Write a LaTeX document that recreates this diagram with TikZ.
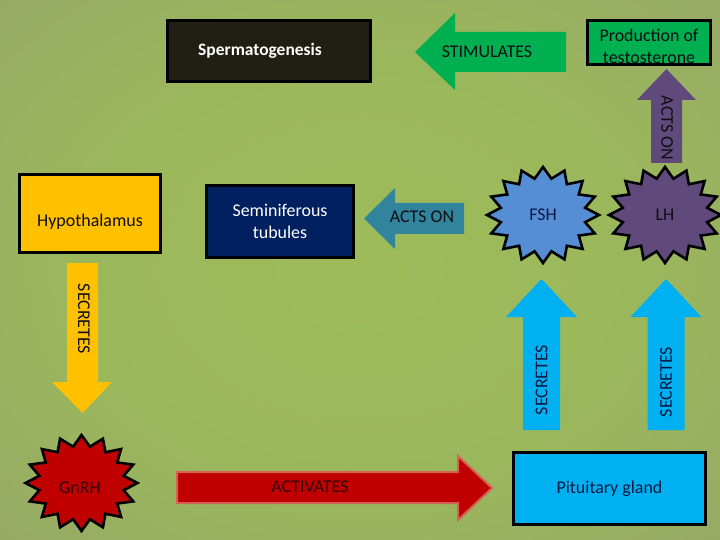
\documentclass[tikz,border=0pt]{standalone}
\usepackage{fontspec}
\setmainfont{Carlito}
\usepackage{tikz}
\usetikzlibrary{calc,positioning}

% slide background
\definecolor{bgA}{RGB}{157,188,89}
\definecolor{bgB}{RGB}{155,183,92}
\definecolor{bgC}{RGB}{149,166,104}
\definecolor{bgD}{RGB}{143,151,114}
\definecolor{bgE}{RGB}{137,138,122}
\pgfdeclareradialshading{slidebg}{\pgfpoint{0bp}{0bp}}{%
  color(0bp)=(bgA); color(20bp)=(bgB); color(40bp)=(bgC);
  color(55bp)=(bgD); color(75bp)=(bgE)}

% fills
\definecolor{spermblack}{RGB}{33,30,20}
\definecolor{prodgreen}{RGB}{0,176,80}
\definecolor{hypoyellow}{RGB}{255,192,0}
\definecolor{tubnavy}{RGB}{0,32,96}
\definecolor{pitblue}{RGB}{0,176,240}
\definecolor{fshblue}{RGB}{85,142,213}
\definecolor{lhpurple}{RGB}{96,74,123}
\definecolor{actsteal}{RGB}{49,132,155}
\definecolor{gnrhred}{RGB}{192,0,0}
\definecolor{activedge}{RGB}{214,96,86}
% inks
\definecolor{inkdark}{RGB}{14,14,20}
\definecolor{inknavy}{RGB}{10,24,66}
\definecolor{inkred}{RGB}{50,6,6}

\tikzset{
  slidefont/.style={font=\fontsize{18}{22}\selectfont},
  organ/.style={draw=black, line width=3bp, inner sep=0pt, align=center, slidefont},
  arrowtext/.style={inner sep=0pt, align=center, slidefont},
  burstline/.style={draw=black, line width=2.6bp, line join=miter},
}

% 16-point burst round a centre
\def\bx{56}\def\by{48}\def\ix{43}\def\iy{37}
\newcommand{\burst}[2]{%
  \filldraw[burstline, fill=#2, shift={(#1)}]
    (90:\bx\space and \by)
    \foreach \a in {0,22.5,...,337.5}{
      -- ({101.25+\a}:\ix\space and \iy) -- ({112.5+\a}:\bx\space and \by)}
    -- cycle;}

\begin{document}
\begin{tikzpicture}[x=1bp, y=-1bp]
  \useasboundingbox (0,0) rectangle (720,540);
  \shade[shading=slidebg] (0,0) rectangle (720,540);

  % top row
  \node[organ, fill=spermblack, minimum width=203bp, minimum height=61bp,
        label={[arrowtext, text=white, font=\fontsize{17.5}{21.5}\selectfont\bfseries,
                xshift=-9bp]center:Spermatogenesis}] (sperm) at (269,51) {};
  \node[organ, fill=prodgreen, minimum width=123bp, minimum height=44bp,
        label={[arrowtext, text=inkdark, yshift=-3bp]center:Production of\\testosterone}]
    (prod) at (649,43) {};
  \fill[prodgreen] (566,32) -- (455,32) -- (455,13) -- (415,52)
    -- (455,90) -- (455,72) -- (566,72) -- cycle;
  \node[arrowtext, text=inkdark] (stim) at (487,52) {STIMULATES};
  \fill[lhpurple] (651,163) -- (651,100) -- (637,100) -- (666.5,69)
    -- (696,100) -- (682,100) -- (682,163) -- cycle;
  \node[arrowtext, text=inkdark, rotate=-90] (actsprod) at (667,128) {ACTS ON};

  % middle row
  \node[organ, fill=hypoyellow, minimum width=141bp, minimum height=78bp,
        label={[arrowtext, text=inkdark, yshift=-8bp]center:Hypothalamus}] (hypo) at (90,213.5) {};
  \node[organ, fill=tubnavy, text=white, minimum width=147bp, minimum height=72bp]
    (tub) at (280,221.5) {Seminiferous\\tubules};
  \fill[actsteal] (464,203) -- (395,203) -- (395,188) -- (364,218.5)
    -- (395,249) -- (395,234) -- (464,234) -- cycle;
  \node[arrowtext, text=inkdark] (actstub) at (422,217) {ACTS ON};
  \coordinate (fshc) at (543,215);
  \burst{fshc}{fshblue}
  \node[arrowtext, text=inknavy] (fsh) at (fshc) {FSH};
  \coordinate (lhc) at (665,215);
  \burst{lhc}{lhpurple}
  \node[arrowtext, text=inkdark] (lh) at (lhc) {LH};

  % secretion arrows
  \fill[hypoyellow] (67,263) -- (67,382) -- (52,382) -- (82.5,413)
    -- (112,382) -- (98,382) -- (98,263) -- cycle;
  \node[arrowtext, text=inkdark, rotate=-90] (secgnrh) at (84,319) {SECRETES};
  \foreach \sx/\sname/\sy in {541.5/secfsh/380, 666/seclh/382}{
    \fill[pitblue] (\sx-18.5,430) -- (\sx-18.5,317) -- (\sx-35.5,317) -- (\sx,279)
      -- (\sx+35.5,317) -- (\sx+18.5,317) -- (\sx+18.5,430) -- cycle;
    \node[arrowtext, text=inknavy, rotate=90] (\sname) at (\sx,\sy) {SECRETES};
  }

  % bottom row
  \coordinate (gnrhc) at (81.5,483);
  \burst{gnrhc}{gnrhred}
  \node[arrowtext, text=inkred] (gnrh) at (80,488) {GnRH};
  \filldraw[fill=gnrhred, draw=activedge, line width=2bp, line join=miter]
    (177,472) -- (458,472) -- (458,456) -- (492,488)
    -- (458,520) -- (458,503) -- (177,503) -- cycle;
  \node[arrowtext, text=inkred] (activ) at (310,487) {ACTIVATES};
  \node[organ, fill=pitblue, text=inknavy, minimum width=192bp, minimum height=72bp]
    (pit) at (609.5,488.5) {Pituitary gland};
\end{tikzpicture}
\end{document}
